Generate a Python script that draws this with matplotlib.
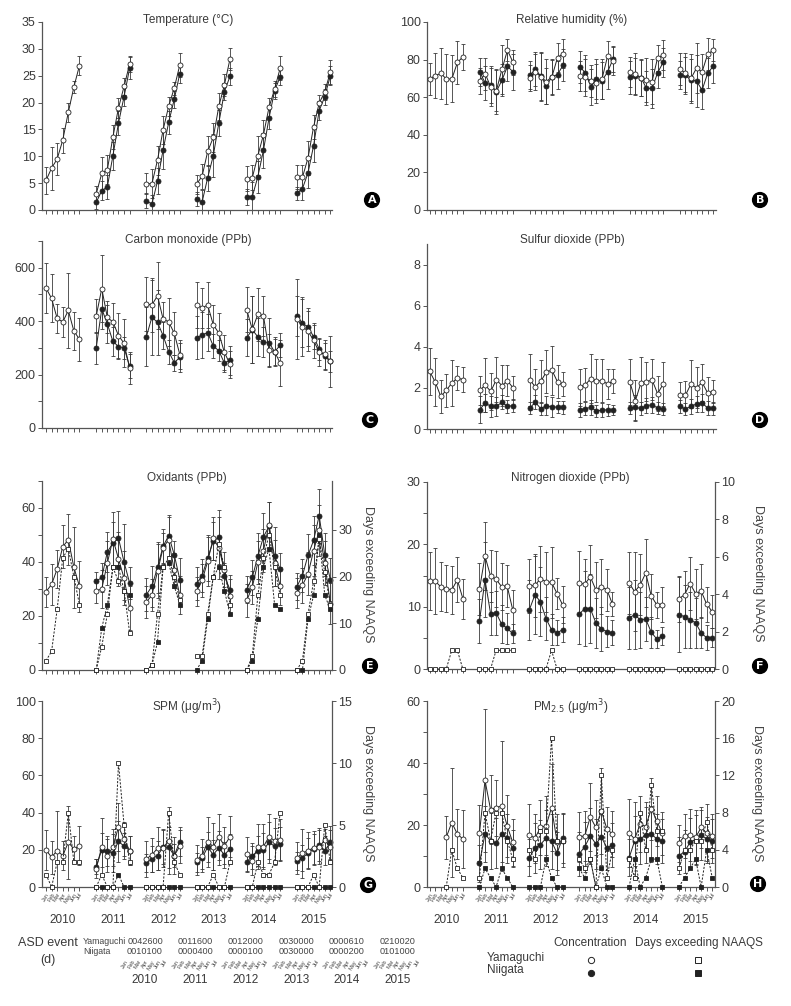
import numpy as np
import matplotlib
matplotlib.use("Agg")
import matplotlib.pyplot as plt

plt.rcParams['font.family'] = ['Liberation Sans Narrow', 'Liberation Sans', 'DejaVu Sans']

nan = np.nan
N7 = [nan] * 7

years = ["2010", "2011", "2012", "2013", "2014", "2015"]
months = ["Jan", "Feb", "Mar", "Apr", "May", "Jun", "Jul"]

# --- A: temperature (C)
temp_y = [5.5, 7.8, 9.5, 13.0, 18.2, 22.9, 26.9,
          3.0, 6.8, 7.5, 13.6, 19.0, 23.0, 27.2,
          4.9, 4.9, 9.3, 14.9, 19.3, 22.7, 27.0,
          4.8, 6.3, 10.9, 13.5, 19.3, 23.3, 28.1,
          5.8, 6.0, 10.1, 14.0, 19.1, 22.5, 26.4,
          6.1, 6.1, 9.7, 15.5, 19.9, 22.0, 25.7]
temp_y_sd = [2.5, 4.0, 3.0, 2.3, 1.8, 1.2, 1.7,
             1.5, 3.0, 2.7, 2.3, 1.8, 1.5, 1.5,
             2.0, 2.7, 2.7, 2.6, 1.8, 1.2, 2.2,
             1.8, 2.3, 2.8, 2.7, 2.5, 2.0, 2.0,
             2.3, 2.3, 3.6, 2.7, 1.8, 1.5, 2.2,
             2.2, 2.2, 3.2, 2.2, 1.5, 1.5, 2.3]
temp_n = N7 + [1.4, 3.6, 4.3, 10.1, 16.2, 21.1, 26.4,
               1.7, 1.1, 5.4, 11.2, 16.3, 20.6, 25.4,
               2.0, 1.5, 6.0, 10.1, 16.2, 22.0, 24.9,
               2.5, 2.5, 6.2, 11.1, 17.1, 22.2, 24.8,
               3.1, 4.0, 6.9, 12.0, 18.5, 21.1, 25.0]
temp_n_sd = N7 + [1.3, 1.8, 2.3, 2.6, 2.2, 1.8, 2.0,
                  1.4, 1.6, 2.5, 3.5, 2.2, 1.6, 1.8,
                  1.3, 2.3, 2.4, 4.0, 2.5, 1.6, 1.6,
                  1.5, 2.8, 3.0, 3.3, 2.0, 1.5, 1.6,
                  1.2, 2.2, 2.8, 3.0, 1.8, 1.5, 1.8]

# --- B: relative humidity (%)
rh_y = [69.7, 71.4, 72.7, 69.7, 69.7, 78.5, 81.5,
        68.6, 72.5, 65.3, 63.5, 74.8, 85.0, 78.5,
        70.2, 73.5, 70.9, 68.3, 70.9, 81.1, 83.2,
        71.2, 70.5, 68.8, 67.4, 69.7, 81.8, 79.2,
        73.5, 72.3, 70.4, 69.1, 68.3, 81.0, 82.4,
        74.8, 73.0, 70.0, 75.5, 73.5, 82.9, 85.0]
rh_y_sd = [8.5, 12.0, 13.5, 13.5, 12.5, 11.5, 7.0,
           7.0, 8.5, 10.0, 11.0, 13.0, 6.0, 6.5,
           7.0, 9.5, 12.5, 12.0, 9.0, 7.5, 7.5,
           8.0, 10.0, 8.5, 10.5, 10.5, 8.0, 7.5,
           8.0, 11.0, 10.0, 11.5, 12.0, 7.0, 8.0,
           8.5, 10.5, 13.0, 13.5, 9.5, 8.5, 6.0]
rh_n = N7 + [73.5, 67.5, 66.7, 63.0, 69.0, 76.4, 73.5,
             71.6, 74.8, 71.2, 66.1, 70.9, 72.0, 77.1,
             76.2, 73.0, 65.6, 69.7, 68.8, 73.4, 80.4,
             70.5, 71.4, 70.4, 64.7, 64.7, 73.0, 78.5,
             71.6, 71.6, 69.1, 68.6, 63.8, 72.7, 76.5]
rh_n_sd = N7 + [7.5, 9.0, 10.0, 12.0, 8.5, 8.0, 9.5,
                7.5, 9.0, 13.0, 9.5, 9.5, 7.5, 8.5,
                8.5, 9.5, 9.5, 10.5, 10.0, 9.0, 7.0,
                9.0, 9.5, 9.5, 9.0, 10.5, 8.0, 7.5,
                7.5, 10.0, 11.0, 14.0, 10.0, 8.0, 9.0]

# --- C: carbon monoxide (ppb)
co_y = [524, 485, 410, 397, 440, 363, 332,
        419, 522, 414, 397, 346, 317, 224,
        464, 461, 495, 408, 397, 355, 275,
        461, 450, 460, 387, 355, 283, 239,
        443, 369, 425, 420, 291, 286, 243,
        408, 379, 363, 328, 283, 276, 249]
co_y_sd = [95, 90, 55, 55, 140, 70, 80,
           65, 125, 60, 70, 85, 90, 60,
           100, 100, 125, 65, 90, 80, 55,
           85, 75, 85, 75, 75, 65, 50,
           85, 125, 100, 75, 60, 55, 85,
           150, 110, 75, 65, 50, 55, 95]
co_n = N7 + [299, 446, 390, 324, 305, 300, 231,
             342, 415, 395, 346, 286, 245, 264,
             338, 348, 357, 307, 289, 243, 253,
             338, 368, 341, 322, 320, 285, 310,
             420, 392, 378, 342, 296, 268, 249]
co_n_sd = N7 + [60, 75, 70, 55, 45, 40, 45,
                110, 140, 120, 50, 45, 30, 55,
                80, 85, 70, 45, 40, 35, 55,
                70, 125, 70, 55, 90, 50, 45,
                75, 90, 70, 45, 40, 50, 40]

# --- D: sulfur dioxide (ppb)
so2_y = [2.81, 2.29, 1.59, 1.88, 2.24, 2.48, 2.40,
         1.88, 2.13, 1.83, 2.40, 2.11, 2.35, 2.00,
         2.39, 2.06, 2.32, 2.78, 2.86, 2.29, 2.19,
         2.03, 2.16, 2.45, 2.34, 2.35, 2.19, 2.34,
         2.29, 1.38, 2.24, 2.29, 2.39, 1.72, 2.19,
         1.67, 1.64, 2.19, 2.00, 2.27, 1.75, 1.82]
so2_y_sd = [1.15, 1.15, 0.8, 0.8, 1.1, 0.6, 0.6,
            0.7, 1.3, 0.9, 1.1, 1.0, 0.75, 0.6,
            1.25, 0.85, 1.05, 1.05, 1.2, 0.8, 0.6,
            0.9, 0.8, 1.2, 1.05, 1.05, 0.75, 0.6,
            1.1, 1.0, 1.25, 0.95, 1.0, 0.85, 1.05,
            0.6, 0.7, 1.15, 1.0, 0.9, 0.8, 0.55]
so2_n = N7 + [0.94, 1.27, 1.10, 1.10, 1.30, 1.10, 1.14,
              1.02, 1.30, 0.99, 1.14, 1.07, 1.07, 1.05,
              0.93, 0.99, 1.05, 0.88, 0.91, 0.94, 0.91,
              1.02, 1.05, 1.00, 1.14, 1.18, 1.02, 0.97,
              1.10, 0.97, 1.10, 1.22, 1.27, 1.02, 1.00]
so2_n_sd = N7 + [0.65, 0.45, 0.5, 0.45, 0.35, 0.3, 0.3,
                 0.3, 0.35, 0.3, 0.45, 0.5, 0.3, 0.3,
                 0.35, 0.3, 0.35, 0.3, 0.35, 0.3, 0.25,
                 0.3, 0.6, 0.3, 0.35, 0.4, 0.3, 0.3,
                 0.3, 0.3, 0.35, 0.4, 0.45, 0.35, 0.3]

# --- E: oxidants (ppb) + days exceeding NAAQS
ox_y = [29.0, 31.7, 37.4, 45.6, 48.3, 38.0, 31.0,
        29.3, 30.0, 39.6, 48.5, 41.2, 34.0, 23.0,
        25.2, 27.7, 36.5, 45.2, 48.3, 36.9, 27.7,
        29.1, 33.2, 40.2, 48.8, 45.2, 37.2, 27.3,
        25.8, 30.6, 39.9, 44.2, 53.8, 39.6, 31.0,
        28.5, 31.4, 35.6, 44.2, 51.7, 39.6, 24.6]
ox_y_sd = [5.5, 7.5, 7.0, 8.0, 9.5, 15.0, 9.5,
           4.5, 7.0, 8.0, 10.0, 10.0, 10.0, 8.0,
           6.0, 6.0, 10.0, 5.5, 8.5, 6.5, 7.0,
           5.5, 6.0, 9.0, 8.0, 11.5, 6.5, 6.5,
           6.0, 6.0, 8.0, 8.0, 8.5, 8.5, 7.0,
           5.5, 6.5, 8.0, 9.5, 9.5, 8.0, 7.5]
ox_n = N7 + [32.8, 34.3, 43.7, 47.0, 48.8, 40.0, 32.2,
             27.9, 31.0, 38.0, 45.8, 49.8, 42.7, 33.5,
             32.0, 35.0, 41.5, 47.7, 49.1, 34.7, 29.8,
             29.8, 34.3, 42.1, 49.3, 53.2, 42.1, 37.4,
             30.9, 35.0, 42.5, 48.0, 57.2, 42.7, 33.5]
ox_n_sd = N7 + [3.5, 5.5, 7.5, 8.0, 10.0, 14.0, 6.0,
                6.0, 7.5, 9.5, 6.5, 7.5, 5.0, 8.0,
                6.0, 6.0, 8.5, 7.0, 10.0, 5.0, 5.5,
                5.0, 6.5, 8.5, 9.0, 9.0, 11.0, 6.0,
                5.0, 6.0, 8.0, 9.0, 10.0, 8.0, 8.0]
ox_days_y = [2, 4, 13, 24, 26, 20, 14,
             0, 5, 12, 22, 19, 17, 8,
             0, 1, 12, 22, 24, 20, 15,
             3, 3, 12, 20, 27, 22, 14,
             0, 3, 16, 24, 29, 22, 16,
             0, 2, 12, 19, 28, 21, 14]
ox_days_n = N7 + [0, 9, 14, 22, 22, 17, 16,
                  0, 1, 6, 22, 23, 18, 14,
                  0, 2, 11, 20, 22, 17, 12,
                  0, 2, 11, 22, 26, 14, 13,
                  0, 0, 11, 16, 29, 16, 13]

# --- F: nitrogen dioxide (ppb) + days exceeding NAAQS
no2_y = [14.1, 14.1, 13.2, 12.9, 12.7, 14.3, 11.3,
         12.8, 18.1, 14.9, 14.4, 13.2, 13.3, 9.5,
         13.3, 13.4, 14.5, 14.0, 13.9, 12.1, 10.3,
         13.8, 13.6, 14.8, 12.7, 13.2, 12.7, 10.4,
         13.8, 12.4, 13.5, 15.4, 11.7, 10.3, 10.3,
         11.3, 11.9, 13.7, 12.1, 12.5, 10.4, 9.2]
no2_y_sd = [4.7, 5.3, 3.9, 3.8, 3.8, 3.6, 3.2,
            4.2, 5.5, 4.2, 4.5, 3.8, 3.4, 3.2,
            4.3, 5.0, 5.3, 4.8, 5.7, 2.5, 3.0,
            5.2, 4.1, 5.1, 4.5, 4.4, 3.4, 1.9,
            4.9, 6.3, 4.9, 5.4, 3.6, 2.1, 2.8,
            3.7, 3.8, 4.3, 4.0, 4.3, 2.8, 2.6]
no2_n = N7 + [7.7, 14.3, 8.9, 9.0, 7.2, 6.5, 5.7,
              9.5, 11.9, 10.8, 8.1, 6.3, 5.8, 6.3,
              8.8, 9.7, 9.7, 7.4, 6.4, 6.0, 5.8,
              8.2, 8.7, 7.9, 8.0, 5.9, 4.8, 5.3,
              8.7, 8.4, 7.9, 7.4, 5.8, 5.0, 5.0]
no2_n_sd = N7 + [3.5, 6.0, 3.5, 3.5, 3.0, 2.5, 1.5,
                 4.8, 6.3, 5.5, 3.5, 2.5, 2.0, 2.0,
                 4.8, 6.0, 5.5, 4.0, 3.5, 2.5, 2.0,
                 5.0, 5.5, 4.5, 3.5, 2.5, 1.5, 1.5,
                 6.0, 5.0, 4.5, 4.0, 2.5, 2.0, 1.5]
no2_days_y = [0, 0, 0, 0, 1, 1, 0,
              0, 0, 0, 1, 1, 1, 1,
              0, 0, 0, 0, 1, 0, 0,
              0, 0, 0, 0, 0, 0, 0,
              0, 0, 0, 0, 0, 0, 0,
              0, 0, 0, 0, 0, 0, 0]

# --- G: SPM (ug/m3) + days exceeding NAAQS
spm_y = [19.9, 16.0, 19.6, 16.9, 24.0, 20.5, 22.2,
         9.8, 21.7, 16.9, 21.4, 32.4, 25.8, 19.6,
         15.1, 17.3, 20.8, 21.0, 24.9, 16.9, 21.9,
         14.6, 16.9, 24.4, 21.7, 27.0, 22.2, 27.0,
         17.8, 14.2, 21.7, 21.7, 27.0, 24.9, 25.3,
         15.7, 18.1, 19.6, 21.0, 21.4, 25.3, 21.4]
spm_y_sd = [10.5, 9.0, 21.0, 8.0, 19.5, 7.0, 10.5,
            5.0, 15.5, 9.0, 10.0, 13.0, 9.0, 8.0,
            9.5, 9.0, 11.5, 10.0, 18.0, 10.0, 9.0,
            8.0, 9.0, 13.5, 12.5, 12.5, 10.0, 11.0,
            9.0, 8.0, 12.0, 12.0, 12.0, 12.0, 11.0,
            8.5, 13.0, 10.0, 9.0, 9.0, 6.0, 9.0]
spm_n = N7 + [11.0, 19.9, 19.2, 18.3, 24.6, 21.9, 19.6,
              12.8, 15.1, 16.9, 21.4, 21.4, 16.9, 24.4,
              13.3, 15.7, 21.4, 17.4, 21.0, 17.3, 20.5,
              13.3, 16.9, 19.2, 19.9, 24.0, 21.9, 23.1,
              13.9, 15.7, 18.1, 20.5, 22.8, 19.6, 24.0]
spm_n_sd = N7 + [4.0, 9.0, 8.0, 10.0, 11.0, 7.0, 8.0,
                 5.0, 7.0, 8.0, 9.0, 11.0, 6.0, 8.0,
                 5.0, 6.0, 8.0, 8.0, 9.0, 7.0, 8.0,
                 5.0, 7.0, 8.0, 9.0, 11.0, 10.0, 9.0,
                 5.0, 7.0, 8.0, 8.0, 9.0, 8.0, 9.0]
spm_days_y = [1, 0, 2, 2, 6, 2, 2,
              0, 1, 0, 0, 10, 5, 2,
              0, 0, 0, 0, 6, 2, 1,
              0, 0, 0, 1, 0, 0, 2,
              0, 0, 2, 1, 1, 2, 6,
              0, 0, 0, 1, 0, 5, 2]
spm_days_n = N7 + [0, 0, 0, 0, 1, 0, 0,
                   0, 0, 0, 0, 0, 0, 0,
                   0, 0, 0, 0, 0, 0, 0,
                   0, 0, 0, 0, 0, 0, 0,
                   0, 0, 0, 0, 0, 0, 0]

# --- H: PM2.5 (ug/m3) + days exceeding NAAQS
pm_y = [nan, nan, nan, 16.0, 20.8, 17.1, 15.5,
        17.4, 34.4, 25.0, 25.6, 26.1, 19.7, 14.4,
        16.9, 15.7, 19.2, 19.7, 25.6, 14.6, 14.9,
        16.2, 16.5, 22.6, 19.2, 24.5, 18.7, 17.1,
        17.4, 15.5, 20.3, 19.5, 25.3, 21.3, 17.3,
        14.1, 16.5, 16.8, 16.0, 19.2, 17.3, 16.5]
pm_y_sd = [nan, nan, nan, 7.0, 17.5, 8.0, 9.5,
           9.0, 23.0, 11.0, 9.0, 21.0, 10.0, 7.5,
           10.0, 8.0, 9.0, 9.5, 14.0, 9.0, 8.5,
           8.0, 8.0, 11.0, 9.0, 14.0, 7.0, 7.5,
           11.0, 12.0, 9.0, 8.0, 10.0, 8.0, 7.0,
           6.0, 7.0, 8.5, 9.0, 6.5, 9.5, 7.0]
pm_n = N7 + [7.7, 17.1, 14.9, 14.1, 17.1, 15.7, 12.5,
             9.4, 12.6, 13.7, 15.7, 14.7, 10.9, 15.8,
             10.7, 13.0, 16.5, 13.9, 16.2, 12.5, 13.6,
             9.4, 14.9, 15.5, 16.8, 17.1, 15.5, 14.9,
             10.1, 11.4, 14.4, 15.3, 16.8, 15.5, 14.9]
pm_n_sd = N7 + [6.0, 9.0, 9.0, 8.0, 9.0, 8.0, 6.0,
                6.0, 8.0, 8.0, 9.0, 9.0, 7.0, 8.0,
                7.0, 8.0, 9.0, 8.0, 9.0, 7.0, 7.0,
                6.0, 8.0, 8.0, 9.0, 9.0, 8.0, 7.0,
                6.0, 7.0, 8.0, 8.0, 8.0, 7.0, 7.0]
pm_days_y = [nan, nan, nan, 0, 4, 2, 1,
             1, 8, 5, 8, 8, 5, 3,
             4, 3, 6, 6, 16, 5, 5,
             3, 2, 3, 0, 12, 1, 4,
             3, 1, 8, 4, 11, 6, 6,
             2, 4, 4, 5, 5, 7, 4]
pm_days_n = N7 + [0, 2, 1, 0, 2, 1, 0,
                  0, 0, 0, 3, 1, 0, 0,
                  2, 1, 3, 0, 2, 0, 0,
                  0, 3, 0, 1, 3, 3, 0,
                  0, 1, 2, 3, 0, 4, 1]

# ASD event days per month (Jan..Jul digits)
asd_yamaguchi = ["0042600", "0011600", "0012000", "0030000", "0000610", "0210020"]
asd_niigata = ["0010100", "0000400", "0000100", "0030000", "0000200", "0101000"]

W, H = 791, 1006
fig = plt.figure(figsize=(W / 100, H / 100), dpi=100)
INK = '#222222'
GREY = '#555555'
TXT = '#3a3a3a'

xs = np.array([yi * 9 + mi for yi in range(6) for mi in range(7)], float)


def px(x, y):
    return x / W, 1 - y / H


def make_ax(left, top, right, bottom, xl):
    ax = fig.add_axes([left / W, 1 - bottom / H, (right - left) / W, (bottom - top) / H])
    for s in ['top', 'right']:
        ax.spines[s].set_visible(False)
    for s in ['left', 'bottom']:
        ax.spines[s].set_color(GREY)
        ax.spines[s].set_linewidth(0.9)
    ax.set_xlim(*xl)
    ax.set_xticks(xs)
    ax.set_xticklabels([])
    ax.tick_params(axis='both', direction='out', length=3, width=0.7, color=GREY,
                   labelsize=9, labelcolor=TXT, pad=1.5)
    ax.tick_params(axis='y', which='minor', direction='out', length=3, width=0.7, color=GREY)
    return ax


def yaxis(ax, top, major, minor=None):
    ax.set_ylim(0, top)
    ax.set_yticks(major)
    if minor is not None:
        ax.set_yticks(minor, minor=True)


def twin(ax, top, ticks):
    a2 = ax.twinx()
    a2.set_ylim(0, top)
    a2.set_yticks(ticks)
    for s in ['top', 'left', 'bottom']:
        a2.spines[s].set_visible(False)
    a2.spines['right'].set_color(GREY)
    a2.spines['right'].set_linewidth(0.9)
    a2.tick_params(axis='y', direction='out', length=3, width=0.7, color=GREY,
                   labelsize=9, labelcolor=TXT, pad=1.5)
    return a2


def conc(ax, vals, sds, filled):
    vals = np.array(vals, float)
    sds = np.array(sds, float)
    for yi in range(6):
        s = slice(yi * 7, yi * 7 + 7)
        ax.errorbar(xs[s], vals[s], yerr=sds[s], fmt='none', ecolor='#3a3a3a',
                    elinewidth=0.6, capsize=1.5, capthick=0.6, zorder=2)
        ax.plot(xs[s], vals[s], '-', color=INK, lw=0.7, marker='o', ms=3.6,
                mfc=INK if filled else 'white', mec=INK, mew=0.6,
                zorder=3 if filled else 4, clip_on=False)


def days(ax, vals, filled):
    vals = np.array(vals, float)
    for yi in range(6):
        s = slice(yi * 7, yi * 7 + 7)
        ax.plot(xs[s], vals[s], '--', color=INK, lw=0.7, marker='s', ms=3.4,
                mfc=INK if filled else 'white', mec=INK, mew=0.6,
                dashes=(2.2, 1.5), zorder=3 if filled else 4, clip_on=False)


def title(x, y, s):
    fig.text(*px(x, y), s, ha='center', va='center', fontsize=8.5, color=TXT)


def badge(x, y, s):
    fig.text(*px(x, y), s, ha='center', va='center', fontsize=8, color='white',
             fontweight='bold', family='DejaVu Sans',
             bbox=dict(boxstyle='circle,pad=0.28', fc='black', ec='none'))


def right_label(x, y):
    fig.text(*px(x, y), 'Days exceeding NAAQS', rotation=270, ha='center', va='center',
             fontsize=9, color='#444444')


def month_labels(ax, height_px):
    tr = ax.get_xaxis_transform()
    for i, xv in enumerate(xs):
        ax.text(xv, -5 / height_px, months[i % 7], transform=tr, rotation=60,
                ha='right', va='top', fontsize=4, color='#444444', rotation_mode='anchor')
    for yi, yr in enumerate(years):
        ax.text(yi * 9 + 3, -33 / height_px, yr, transform=tr, ha='center', va='center',
                fontsize=8.5, color=TXT)


XL_L = (-0.72, 51.3)
XL_R = (-0.47, 51.5)

# A
axA = make_ax(42, 22, 332, 210, XL_L)
yaxis(axA, 35, np.arange(0, 36, 5))
conc(axA, temp_n, temp_n_sd, True)
conc(axA, temp_y, temp_y_sd, False)
title(188, 20, 'Temperature (°C)')
badge(372, 200, 'A')

# B
axB = make_ax(427, 22, 716, 210, XL_R)
yaxis(axB, 100, np.arange(0, 101, 20))
conc(axB, rh_n, rh_n_sd, True)
conc(axB, rh_y, rh_y_sd, False)
title(572, 20, 'Relative humidity (%)')
badge(760, 200, 'B')

# C
axC = make_ax(42, 241, 332, 428, XL_L)
yaxis(axC, 700, np.arange(0, 601, 200), np.arange(0, 701, 100))
conc(axC, co_n, co_n_sd, True)
conc(axC, co_y, co_y_sd, False)
title(188, 240, 'Carbon monoxide (PPb)')
badge(370, 420, 'C')

# D
axD = make_ax(427, 244, 716, 429, XL_R)
yaxis(axD, 9, np.arange(0, 9, 2))
conc(axD, so2_n, so2_n_sd, True)
conc(axD, so2_y, so2_y_sd, False)
title(572, 240, 'Sulfur dioxide (PPb)')
badge(760, 420, 'D')

# E
axE = make_ax(42, 481, 332, 670, XL_L)
yaxis(axE, 70, np.arange(0, 61, 20), np.arange(0, 71, 10))
axE2 = twin(axE, 40.5, [0, 10, 20, 30])
conc(axE, ox_n, ox_n_sd, True)
conc(axE, ox_y, ox_y_sd, False)
days(axE2, ox_days_n, True)
days(axE2, ox_days_y, False)
title(187, 478, 'Oxidants (PPb)')
right_label(368, 574)
badge(370, 666, 'E')

# F
axF = make_ax(427, 482, 715, 669, XL_R)
yaxis(axF, 30, np.arange(0, 31, 10), np.arange(0, 31, 5))
axF2 = twin(axF, 10, np.arange(0, 11, 2))
conc(axF, no2_n, no2_n_sd, True)
conc(axF, no2_y, no2_y_sd, False)
days(axF2, no2_days_y, False)
title(570, 478, 'Nitrogen dioxide (PPb)')
right_label(758, 573)
badge(760, 666, 'F')

# G
axG = make_ax(42, 701, 332, 887, XL_L)
yaxis(axG, 100, np.arange(0, 101, 20))
axG2 = twin(axG, 15, [0, 5, 10, 15])
conc(axG, spm_n, spm_n_sd, True)
conc(axG, spm_y, spm_y_sd, False)
days(axG2, spm_days_n, True)
days(axG2, spm_days_y, False)
title(187, 707, 'SPM (μg/m$^3$)')
right_label(368, 793)
badge(368, 885, 'G')
month_labels(axG, 186)

# H
axH = make_ax(427, 701, 715, 887, XL_R)
yaxis(axH, 60, np.arange(0, 61, 20), np.arange(0, 61, 10))
axH2 = twin(axH, 20, np.arange(0, 21, 4))
conc(axH, pm_n, pm_n_sd, True)
conc(axH, pm_y, pm_y_sd, False)
days(axH2, pm_days_n, True)
days(axH2, pm_days_y, False)
title(571, 707, 'PM$_{2.5}$ (μg/m$^3$)')
right_label(757, 793)
badge(758, 884, 'H')
month_labels(axH, 186)

# ASD event table
fig.text(*px(48, 943), 'ASD event', ha='center', va='center', fontsize=9, color=TXT)
fig.text(*px(48, 960), '(d)', ha='center', va='center', fontsize=9, color=TXT)
fig.text(*px(83, 941), 'Yamaguchi', ha='left', va='center', fontsize=6.3, color='#444444')
fig.text(*px(83, 951), 'Niigata', ha='left', va='center', fontsize=6.3, color='#444444')
for i, yr in enumerate(years):
    cx = 145 + 50.5 * i
    fig.text(*px(cx, 941), asd_yamaguchi[i], ha='center', va='center', fontsize=6.6, color='#444444')
    fig.text(*px(cx, 951), asd_niigata[i], ha='center', va='center', fontsize=6.6, color='#444444')
    for mi, m in enumerate(months):
        fig.text(*px(cx - 20 + mi * 6.5, 959), m, ha='right', va='top', rotation=60,
                 rotation_mode='anchor', fontsize=4, color='#444444')
    fig.text(*px(cx, 980), yr, ha='center', va='center', fontsize=8.5, color=TXT)

# legend block
lg = fig.add_axes([0, 0, 1, 1], facecolor='none')
lg.set_xlim(0, W)
lg.set_ylim(H, 0)
lg.axis('off')
lg.text(590, 943, 'Concentration', ha='center', va='center', fontsize=8.5, color=TXT)
lg.text(699, 943, 'Days exceeding NAAQS', ha='center', va='center', fontsize=8.5, color=TXT)
lg.text(487, 958, 'Yamaguchi', ha='left', va='center', fontsize=8.5, color=TXT)
lg.text(487, 970, 'Niigata', ha='left', va='center', fontsize=8.5, color=TXT)
lg.plot([591], [960], 'o', ms=4.5, mfc='white', mec=INK, mew=0.7)
lg.plot([591], [973], 'o', ms=4.5, mfc=INK, mec=INK, mew=0.7)
lg.plot([698], [960], 's', ms=4.5, mfc='white', mec=INK, mew=0.7)
lg.plot([698], [973], 's', ms=4.5, mfc=INK, mec=INK, mew=0.7)

fig.savefig('out.png', dpi=100)
